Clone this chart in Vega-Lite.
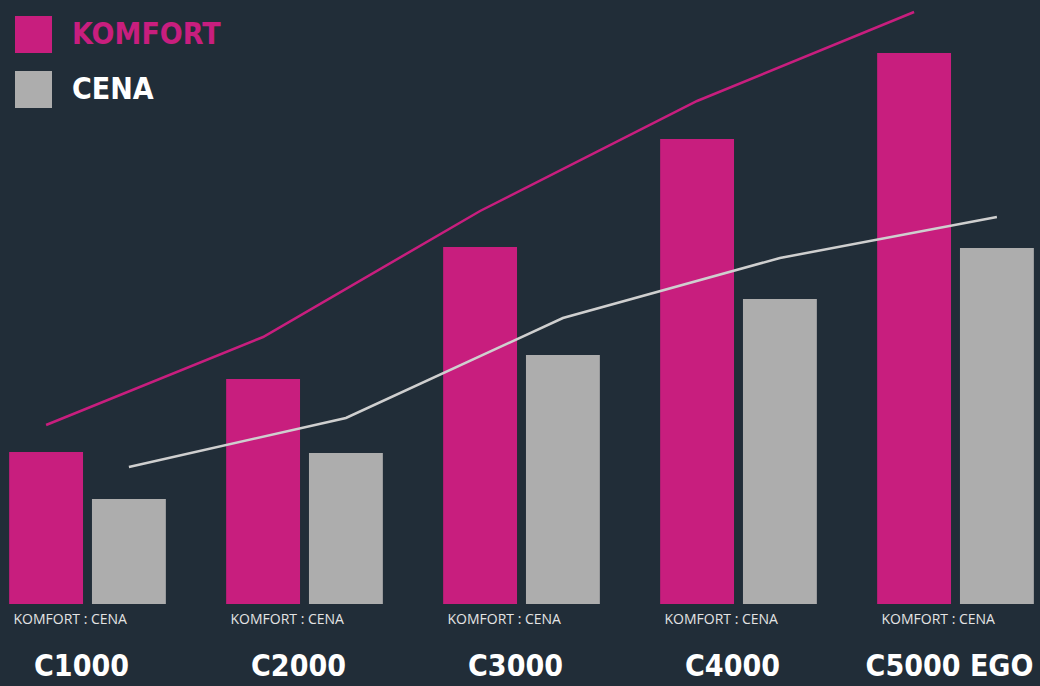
{
  "$schema": "https://vega.github.io/schema/vega-lite/v6.json",
  "width": 1040,
  "height": 686,
  "autosize": {"type": "fit", "contains": "padding"},
  "padding": 0,
  "background": "#212d38",
  "config": {"view": {"stroke": null}},
  "data": {
    "values": [
      {"model": "C1000", "series": "KOMFORT", "value": 15.2, "trend": 17.9},
      {"model": "C1000", "series": "CENA", "value": 10.5, "trend": 13.7},
      {"model": "C2000", "series": "KOMFORT", "value": 22.5, "trend": 26.7},
      {"model": "C2000", "series": "CENA", "value": 15.1, "trend": 18.6},
      {"model": "C3000", "series": "KOMFORT", "value": 35.7, "trend": 39.3},
      {"model": "C3000", "series": "CENA", "value": 24.9, "trend": 28.6},
      {"model": "C4000", "series": "KOMFORT", "value": 46.5, "trend": 50.3},
      {"model": "C4000", "series": "CENA", "value": 30.5, "trend": 34.6},
      {"model": "C5000 EGO", "series": "KOMFORT", "value": 55.1, "trend": 59.2},
      {"model": "C5000 EGO", "series": "CENA", "value": 35.6, "trend": 38.7}
    ]
  },
  "encoding": {
    "x": {
      "field": "model",
      "type": "nominal",
      "sort": null,
      "scale": {"range": [-21, 1064], "paddingInner": 0, "paddingOuter": 0},
      "axis": null
    }
  },
  "layer": [
    {
      "mark": {"type": "bar"},
      "encoding": {
        "xOffset": {
          "field": "series",
          "type": "nominal",
          "scale": {"domain": ["KOMFORT", "CENA"], "paddingInner": 0.108, "paddingOuter": 0.364}
        },
        "y": {
          "field": "value",
          "type": "quantitative",
          "scale": {"domain": [-8.2, 60.4], "nice": false, "zero": false},
          "axis": null
        },
        "y2": {"datum": 0},
        "color": {
          "field": "series",
          "type": "nominal",
          "scale": {"domain": ["KOMFORT", "CENA"], "range": ["#c81e7e", "#adadad"]},
          "legend": {
            "orient": "none",
            "legendX": 15,
            "legendY": 16,
            "title": null,
            "padding": 0,
            "symbolType": "square",
            "symbolSize": 1369,
            "symbolStrokeWidth": 0,
            "symbolOpacity": 1,
            "labelFont": "DejaVu Sans Condensed",
            "labelFontWeight": "bold",
            "labelFontSize": 30,
            "labelOffset": 20,
            "labelLimit": 400,
            "rowPadding": 18,
            "encode": {
              "labels": {"update": {"fill": {"signal": "datum.value === 'KOMFORT' ? '#c81e7e' : '#ffffff'"}}}
            }
          }
        }
      }
    },
    {
      "mark": {"type": "line", "strokeWidth": 2.5},
      "encoding": {
        "xOffset": {"field": "series", "type": "nominal"},
        "y": {"field": "trend", "type": "quantitative"},
        "stroke": {
          "field": "series",
          "type": "nominal",
          "scale": {"domain": ["KOMFORT", "CENA"], "range": ["#c81e7e", "#cfcfcf"]},
          "legend": null
        }
      }
    },
    {
      "transform": [{"filter": "datum.series === 'KOMFORT'"}],
      "mark": {
        "type": "text",
        "text": "KOMFORT : CENA",
        "align": "left",
        "baseline": "alphabetic",
        "dx": -74,
        "font": "Open Sans",
        "fontSize": 14,
        "color": "#e4e4e4"
      },
      "encoding": {"y": {"datum": -2.0}}
    },
    {
      "transform": [{"filter": "datum.series === 'KOMFORT'"}],
      "mark": {
        "type": "text",
        "align": "center",
        "baseline": "alphabetic",
        "dx": -6,
        "font": "DejaVu Sans Condensed",
        "fontWeight": "bold",
        "fontSize": 30,
        "color": "#ffffff"
      },
      "encoding": {"y": {"datum": -7.2}, "text": {"field": "model"}}
    }
  ]
}
